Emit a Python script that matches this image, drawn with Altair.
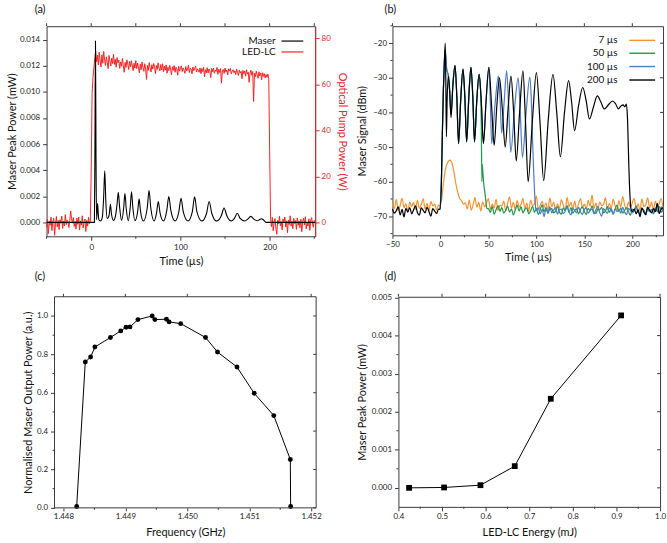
import altair as alt
import pandas as pd

FONT = "Lato"
RED = "#ff1f1f"
RED_AX = "#e8262b"
FRAME = "#3a3a3a"

# ---------------- panel (a): maser trace key points ----------------
maser_t = [-50, 3.6, 4.2, 4.8, 5.4, 6.0, 6.6, 7.2, 7.8, 8.6, 10.5, 12.5, 14.0, 15.2, 16.4,
           18.0, 20.2, 21.5, 22.8, 25.0, 27.5, 29.0, 30.4, 31.8, 34.0, 36.4, 37.8, 39.2,
           41.5, 43.8, 45.2, 46.6, 49.0, 52.2, 53.7, 55.2, 58.5, 62.8, 64.8, 66.8, 70.5,
           73.2, 75.2, 77.2, 81.0, 84.7, 87.0, 89.3, 94.0, 98.2, 100.7, 103.2, 108.5, 113.3,
           115.9, 118.5, 124.0, 129.3, 132.2, 135.1, 140.5, 145.8, 148.9, 152.0, 157.0,
           160.5, 163.7, 166.9, 172.0, 175.5, 178.9, 182.3, 186.0, 188.5, 190.7, 192.9,
           196.0, 251]
maser_p = [0, 0, 0.006, 0.0139, 0.005, 0.0002, 0.0008, 0.00145, 0.0008, 0.0002, 0.0001,
           0.0004, 0.0020, 0.00395, 0.0016, 0.0003, 0.0006, 0.00138, 0.0006, 0.00015,
           0.0006, 0.0014, 0.0023, 0.0012, 0.00015, 0.0011, 0.0022, 0.0011, 0.00012,
           0.0012, 0.00235, 0.0012, 0.00012, 0.0009, 0.0018, 0.0009, 0.0001, 0.0011,
           0.00243, 0.0011, 0.0001, 0.0007, 0.0016, 0.0007, 0.0001, 0.0009, 0.00197,
           0.0009, 0.0001, 0.0008, 0.00185, 0.0008, 0.0001, 0.0008, 0.00195, 0.0008,
           0.0001, 0.0007, 0.0016, 0.0007, 0.0001, 0.0005, 0.0011, 0.0005, 0.0001,
           0.0003, 0.0007, 0.0003, 0.0001, 0.00025, 0.00046, 0.00025, 0.00012, 0.0002,
           0.00028, 0.0002, 0.0, 0.0]

# LED-LC optical pump power (W), 1 us samples
led_pre = [-2.1, 1.4, -4.8, 0.6, -1.2, 2.3, -3.5, 0.2, 1.8, -5.6,
           -0.7, 2.6, -1.9, 0.9, -3.1, 1.2, -0.4, 2.8, -2.6, 0.5,
           -1.5, 3.4, -0.9, 1.1, 0.2, -2.2, 0.8, 5.0, 1.6, -0.3,
           2.1, -1.7, 0.4, -2.9, 1.9, -0.8, 2.4, -3.3, 0.7, -1.1,
           2.9, -2.4, 0.3, 1.5, -3.9, 0.9, -1.6, 2.2, -0.6, 0.4]          # t=-50..-1
led_rise = [22, 56, 63, 67, 71]                                             # t=0..4
led_s1 = [74.5, 69.8, 72.6, 68.4, 73.9, 70.2, 67.5, 72.8, 69.1, 74.2, 70.6]  # t=5..
led_s2 = [68.2, 71.9, 69.4, 66.8, 72.5, 70.1, 67.9, 71.3, 69.0, 73.0, 68.6, 70.8,
          67.4, 71.6, 69.3]                                                 # t=16..
led_s3 = [70.4, 66.9, 69.7, 67.8, 71.2, 68.1, 65.2, 69.5, 67.3, 70.6, 68.8, 66.4,
          69.9, 67.6, 70.2, 68.3, 65.9, 69.1, 67.0, 70.3]                   # t=31..
led_s4 = [66.8, 69.2, 67.1, 64.9, 68.7, 66.3, 69.6, 67.4, 65.6, 68.9, 66.7, 62.1,
          68.2, 66.0, 69.4, 67.2, 65.3, 68.5, 66.6, 69.0, 67.8, 64.6, 68.1, 66.4,
          69.3, 67.0, 65.8, 68.6, 66.2, 68.9]                               # t=51..
led_s5 = [65.4, 67.9, 66.1, 68.4, 64.8, 67.3, 65.9, 68.2, 66.5, 64.1, 67.6, 66.0,
          68.1, 65.2, 67.4, 66.3, 63.9, 67.8, 65.7, 66.9, 68.0, 65.5, 67.1, 66.2,
          64.7, 67.7, 65.8, 66.6, 68.3, 65.1, 67.0, 66.4, 64.5, 67.5, 65.9, 66.8,
          67.9, 65.3, 66.7, 66.0]                                           # t=81..
led_s6 = [65.2, 67.1, 64.6, 66.8, 65.5, 67.4, 63.2, 66.3, 65.0, 67.2, 64.9, 66.6,
          65.8, 62.9, 66.9, 65.4, 67.0, 64.8, 66.1, 65.6, 67.3, 64.3, 66.5, 65.1,
          66.8, 60.5, 65.9, 66.4, 64.7, 67.0, 65.3, 66.2, 64.0, 66.7, 65.7, 66.9,
          64.5, 65.8, 66.3, 65.0]                                           # t=121..
led_s7 = [65.9, 64.2, 66.5, 65.1, 63.8, 66.2, 64.9, 65.6, 62.4, 66.0, 64.6, 65.8,
          63.5, 66.3, 64.4, 65.2, 60.8, 64.9, 66.1, 63.9, 65.5, 52.5, 64.8, 63.3,
          65.7, 64.1, 62.6, 65.4, 63.7, 64.9, 61.9, 65.0, 63.4, 64.6, 62.8, 64.2,
          63.0, 64.4, 62.5]                                                 # t=161..199
led_fall = [31, 2]                                                          # t=200..201
led_post = [-1.8, 2.2, -3.6, 0.4, 1.7, -2.5, -5.1, 0.9, -0.6, 2.7, -1.4, 0.3,
            -3.2, 1.5, -0.2, 2.4, -2.0, 0.7, -4.4, 1.1, -0.9, 2.9, -1.6, 0.5,
            -2.7, 1.8, -0.5, 0.8, -3.0, 2.0, -1.2, 0.6, -2.3, 1.4, -4.0, 0.2,
            1.9, -1.0, 2.5, -2.8, 0.1, -1.5, 1.6, -3.4, 0.7, 2.1, -0.7, -2.1, 1.0]  # t=202..

# ---------------- panel (b): maser signal (dBm) ----------------
b_names = ["7 µs", "50 µs", "100 µs", "200 µs"]
b_colors = ["#f7922f", "#1d9a4a", "#4a7cc9", "#000000"]

orange_pre = [-66.2, -67.8, -65.1, -68.3, -66.9, -64.8, -67.5, -66.4, -68.6, -65.9,
              -67.2, -66.0, -68.1, -65.4, -67.7, -66.6, -64.9, -67.9, -66.3, -68.4,
              -65.7, -67.0, -66.5, -68.2, -66.8]                 # t=-50..-2 step 2
orange_hump = [(-0.5, -67), (1, -65.5), (2.5, -62), (4, -58.5), (6, -55.5), (8, -54.2),
               (10, -53.8), (12, -54.6), (14, -57), (16, -60.5), (18, -63), (20, -64.8),
               (22, -65.5), (24, -66.5)]
orange_post = [-66.1, -67.9, -65.3, -68.2, -66.7, -64.6, -67.4, -66.0, -68.5, -65.8,
               -67.3, -66.2, -64.9, -68.0, -66.5, -67.6, -65.1, -68.3, -66.8, -67.1,
               -65.6, -68.4, -66.3, -64.4, -67.7, -66.0, -68.1, -65.5, -67.4, -66.6,
               -64.8, -67.9, -66.2, -68.6, -65.3, -67.0, -66.4, -64.2, -68.0, -66.9,
               -65.7, -67.5, -66.1, -68.3, -64.7, -67.2, -65.9, -68.1, -66.4, -67.8,
               -65.2, -66.7, -68.4, -64.5, -67.3, -66.0, -67.9, -65.6, -68.2, -66.3,
               -64.9, -67.6, -66.5, -68.0, -65.4, -67.1, -63.9, -67.8, -66.2, -68.5,
               -65.8, -67.0, -66.6, -64.6, -68.1, -66.3, -67.7, -65.1, -66.9, -68.2,
               -65.5, -67.3, -64.3, -66.8, -68.0, -65.9, -67.5, -66.1, -64.8, -67.9,
               -66.4, -68.3, -65.0, -67.2, -66.7, -64.7, -67.6, -66.0, -68.1, -65.6,
               -67.4, -66.3, -64.9, -67.8]                       # t=26..232 step 2

shared_early = [(-0.5, -68), (1, -60), (2, -46), (3, -34), (4, -26), (5, -22), (6.5, -27.5),
                (8.3, -29.5), (9.6, -34), (11, -40.5), (13, -32), (15.2, -26.5), (17, -35),
                (18.9, -49), (21, -37), (23.5, -27.5), (25.5, -36), (27.3, -48.5), (29.5, -36),
                (31.8, -27), (33.8, -36), (35.5, -48.5), (37.8, -37), (40.3, -29)]
green_drop = [(41.5, -32), (42.6, -44), (43.2, -60), (43.6, -55), (44.4, -58), (45.5, -61.5),
              (46.5, -63.5), (47.5, -66), (48.5, -67.8)]
green_post = [-67.8, -68.9, -67.2, -69.4, -68.1, -66.9, -68.6, -67.5, -69.1, -68.3,
              -67.0, -68.8, -67.9, -69.6, -68.2, -66.8, -68.5, -67.3, -69.0, -68.0,
              -67.6, -69.3, -68.4, -67.1, -68.9, -67.7, -69.5, -68.1, -66.7, -68.7,
              -67.4, -69.2, -68.0, -67.8, -69.0, -68.5, -67.2, -68.8, -69.4, -67.6,
              -68.3, -66.9, -68.9, -67.5, -69.1, -68.2, -67.9, -69.3, -68.0, -67.3,
              -68.6, -69.5, -67.7, -68.4, -67.0, -68.8, -69.2, -67.9, -68.1, -67.4,
              -69.0, -68.5, -67.2, -68.9, -67.8, -69.4, -68.0, -66.8, -68.7, -67.6,
              -69.1, -68.3, -67.5, -68.6, -69.7, -67.9, -68.2, -67.0, -68.8, -69.2,
              -67.7, -68.4, -69.0, -67.3, -68.6, -68.1, -69.3, -67.8, -68.5, -67.1,
              -68.9, -68.0]                                      # t=50..232 step 2
blue_osc = [(42.6, -37), (44.8, -49), (47.5, -37), (50.5, -27), (52, -37), (53.4, -49),
            (56.8, -38), (60.4, -29.5), (62.1, -36), (63.8, -46), (66.4, -37), (69, -28),
            (71.1, -38), (73.3, -51.5), (77.2, -39), (81, -30), (83.2, -40), (85.5, -53),
            (89.3, -40), (93.2, -29.8), (94.8, -37), (96, -48), (97.3, -58), (98.5, -65),
            (99.5, -68)]
blue_post = [-68.4, -67.6, -69.3, -68.0, -70.1, -67.8, -68.9, -67.3, -69.0, -68.2,
             -67.5, -69.4, -68.1, -67.9, -69.2, -68.6, -67.2, -68.8, -69.6, -67.7,
             -68.3, -69.0, -67.4, -68.7, -69.5, -68.0, -67.6, -69.1, -68.4, -67.9,
             -69.3, -68.2, -67.1, -68.9, -70.0, -67.8, -68.5, -69.2, -67.6, -68.1,
             -69.4, -67.9, -68.6, -68.0, -69.1, -67.4, -68.8, -69.5, -67.7, -68.3,
             -69.0, -68.4, -67.5, -68.9, -69.3, -67.8, -68.2, -69.6, -67.9, -68.7,
             -68.0, -69.2, -67.6, -68.5, -69.0, -67.3, -68.8]     # t=100..232 step 2
black_pre = [-67.9, -69.1, -68.4, -67.3, -69.6, -68.0, -70.2, -67.7, -68.8, -67.5,
             -69.3, -68.1, -67.0, -68.9, -69.7, -67.6, -68.3, -69.0, -67.4, -68.6,
             -70.0, -67.8, -68.5, -69.2, -67.9]                  # t=-50..-2 step 2
black_osc = [(-0.5, -68), (1, -60), (2, -46), (3, -34), (4, -26), (5, -20), (5.6, -31),
             (6.2, -47), (7, -36), (8.3, -29.5), (9.5, -33), (11, -41.5), (13, -32),
             (15.2, -26.5), (17, -35), (18.9, -49), (21, -37), (23.5, -27.5), (25.5, -36),
             (27.3, -48.5), (29.5, -36), (31.8, -27), (33.8, -36), (35.5, -48.5),
             (37.8, -37), (40.3, -29), (42.6, -37), (44.8, -49), (47.5, -37), (50.5, -27),
             (53.3, -38), (56, -49.5), (58.8, -38), (61.5, -30), (64.5, -39), (67.5, -50),
             (70.5, -39), (73.5, -29.5), (76.3, -40), (79, -54), (82.5, -40), (86, -28),
             (88.7, -43), (91.4, -60), (95.7, -43), (100, -28.5), (103.8, -43),
             (107.6, -59.7), (112.4, -42), (117.3, -29), (121.2, -40), (125, -52.8),
             (129.3, -40), (133.6, -30.8), (136.7, -37), (139.8, -45.3), (144, -38),
             (148.3, -32.8), (151.8, -36.5), (155.3, -41.9), (159.4, -38.5), (163.5, -35.2),
             (167.2, -37), (170.8, -39), (175, -37.8), (179.4, -36.7), (182.5, -37.5),
             (185.5, -39), (188, -38.2), (190.3, -37.8), (192, -38.4), (193.8, -37.6),
             (195, -42), (196.3, -55), (197.5, -64), (198.7, -68)]
black_post = [-68.6, -67.9, -69.3, -68.1, -70.1, -67.6, -68.8, -69.5, -67.4, -68.2,
              -69.0, -67.8, -68.7, -66.3, -69.2, -68.0, -67.5]   # t=200..232 step 2

# ---------------- panel (c) ----------------
c_freq = [1.448214, 1.448353, 1.448439, 1.448508, 1.448759, 1.448925, 1.449011, 1.449075,
          1.449203, 1.449433, 1.449476, 1.449663, 1.449706, 1.449893, 1.450294, 1.450487,
          1.450802, 1.451080, 1.451396, 1.451663, 1.451668]
c_power = [0.007, 0.760, 0.786, 0.838, 0.888, 0.922, 0.941, 0.943, 0.981, 1.000, 0.981,
           0.983, 0.969, 0.960, 0.888, 0.812, 0.734, 0.597, 0.481, 0.252, 0.007]

# ---------------- panel (d) ----------------
d_energy = [0.4245, 0.5047, 0.5881, 0.6668, 0.7494, 0.9107]
d_peak = [0.0, 0.00001, 0.00007, 0.00057, 0.00234, 0.00453]

# ---------------- scale domains / tick positions ----------------
A_X = [-50, 251]
A_YL = [-0.00107, 0.01504]
A_YR = [-6, 85.2]
B_X = [-50, 232]
B_Y = [-75.5, -15.1]
C_X = [1.447856, 1.45208]
C_Y = [0, 1.1]
D_X = [0.4, 1.0]
D_Y = [-0.0005, 0.00502]

A_XT = [-50, 0, 50, 100, 150, 200, 250]
A_YLT = [0, 0.002, 0.004, 0.006, 0.008, 0.010, 0.012, 0.014]
B_XT = [-50, 0, 50, 100, 150, 200]
B_XM = [-25, 25, 75, 125, 175, 225]
B_YT = [-70, -60, -50, -40, -30, -20]
B_YM = [-75, -65, -55, -45, -35, -25, -15]
C_XT = [1.448, 1.449, 1.450, 1.451, 1.452]
C_XM = [1.4485, 1.4495, 1.4505, 1.4515]
C_YT = [0, 0.2, 0.4, 0.6, 0.8, 1.0]
C_YM = [0.1, 0.3, 0.5, 0.7, 0.9]
D_XT = [0.4, 0.5, 0.6, 0.7, 0.8, 0.9, 1.0]
D_XM = [0.45, 0.55, 0.65, 0.75, 0.85, 0.95]
D_YT = [0, 0.001, 0.002, 0.003, 0.004, 0.005]
D_YM = [0.0005, 0.0015, 0.0025, 0.0035, 0.0045]


def seg(start, step, vals):
    return [round(start + i * step, 4) for i in range(len(vals))]


def pts(pairs):
    return [p[0] for p in pairs], [p[1] for p in pairs]


# ---- build (a) tables
led_t = (seg(-50, 1, led_pre) + seg(0, 1, led_rise) + seg(5, 1, led_s1) + seg(16, 1, led_s2)
         + seg(31, 1, led_s3) + seg(51, 1, led_s4) + seg(81, 1, led_s5) + seg(121, 1, led_s6)
         + seg(161, 1, led_s7) + seg(200, 1, led_fall) + seg(202, 1, led_post))
led_w = (led_pre + led_rise + led_s1 + led_s2 + led_s3 + led_s4 + led_s5 + led_s6 + led_s7
         + led_fall + led_post)
a_led = pd.DataFrame({"t": led_t, "v": led_w})
a_maser = pd.DataFrame({"t": maser_t, "v": maser_p})

# ---- build (b) tables
ot, ov = pts(orange_hump)
st, sv = pts(shared_early)
gt, gv = pts(green_drop)
bt, bv = pts(blue_osc)
kt, kv = pts(black_osc)
b_tables = [
    pd.DataFrame({"t": seg(-50, 2, orange_pre) + ot + seg(26, 2, orange_post),
                  "v": orange_pre + ov + orange_post}),
    pd.DataFrame({"t": st + gt + seg(50, 2, green_post), "v": sv + gv + green_post}),
    pd.DataFrame({"t": st + bt + seg(100, 2, blue_post), "v": sv + bv + blue_post}),
    pd.DataFrame({"t": seg(-50, 2, black_pre) + kt + seg(200, 2, black_post),
                  "v": black_pre + kv + black_post}),
]

c_df = pd.DataFrame({"f": c_freq, "v": c_power})
d_df = pd.DataFrame({"e": d_energy, "p": d_peak})


def ptitle(txt, dx, offset):
    return alt.TitleParams(txt, anchor="start", frame="group", dx=dx, offset=offset,
                           fontSize=11, fontWeight="normal", font=FONT, color="#111")


def xticks(enc, field, values, y0, y1, color=FRAME):
    """Short tick rules at data positions along x (through the panel's own x encoding)."""
    df = pd.DataFrame({field: values})
    return alt.Chart(df).mark_rule(color=color, strokeWidth=1).encode(
        x=enc, y=alt.value(y0), y2=alt.value(y1))


def yticks(enc, field, values, x0, x1, color=FRAME):
    df = pd.DataFrame({field: values})
    return alt.Chart(df).mark_rule(color=color, strokeWidth=1).encode(
        y=enc, x=alt.value(x0), x2=alt.value(x1))


def legend_rows(labels, colors, ys, text_right, sym_x, sym_x2, width):
    out = []
    for lab, col, yy in zip(labels, colors, ys):
        one = pd.DataFrame({"lab": [lab]})
        out.append(alt.Chart(one).mark_text(align="right", baseline="middle", fontSize=10,
                                            font=FONT, color="#111")
                   .encode(text="lab:N", x=alt.value(text_right), y=alt.value(yy)))
        out.append(alt.Chart(one).mark_rule(color=col, strokeWidth=width)
                   .encode(x=alt.value(sym_x), x2=alt.value(sym_x2), y=alt.value(yy)))
    return out


def frame_line(x0, x1, y0, y1):
    return alt.Chart(pd.DataFrame({"k": [0]})).mark_rule(color=FRAME, strokeWidth=1).encode(
        x=alt.value(x0), x2=alt.value(x1), y=alt.value(y0), y2=alt.value(y1))


# ================= panel (a) =================
AW, AH = 271, 212
xa_sc = alt.Scale(domain=A_X, nice=False, zero=False)
xa = alt.X("t:Q", scale=xa_sc,
           axis=alt.Axis(orient="bottom", values=[0, 100, 200], title="Time (µs)", tickSize=4,
                         labelPadding=3, titlePadding=4))
red = alt.Chart(a_led).mark_line(strokeWidth=1, color=RED).encode(
    x=xa,
    y=alt.Y("v:Q", scale=alt.Scale(domain=A_YR, nice=False, zero=False),
            axis=alt.Axis(orient="right", values=[0, 20, 40, 60, 80], title="Optical Pump Power (W)",
                          tickSize=4, labelPadding=2, titlePadding=6, labelColor=RED_AX,
                          titleColor=RED_AX, tickColor=RED_AX, domain=True, domainColor=RED_AX)))
blk = alt.Chart(a_maser).mark_line(strokeWidth=1.1, interpolate="monotone", color="#000").encode(
    x=xa,
    y=alt.Y("v:Q", scale=alt.Scale(domain=A_YL, nice=False, zero=False),
            axis=alt.Axis(orient="left", values=A_YLT, format=".3f", title="Maser Peak Power (mW)",
                          tickSize=4, labelPadding=3, titlePadding=2)))
a_core = alt.layer(red, blk).resolve_scale(y="independent")
a_extra = [
    xticks(xa, "t", A_XT, -3, 0),
    xticks(xa, "t", [-50, 50, 150, 250], AH, AH + 2.5),
]
a_leg = legend_rows(["Maser", "LED-LC"], ["#000000", RED], [15, 26], 231, 237, 259, 1.2)
pa = alt.layer(a_core, *a_extra, *a_leg).properties(
    width=AW, height=AH, title=ptitle("(a)", -12, 8))

# ================= panel (b) =================
BW, BH = 273, 211
xb = alt.X("t:Q", scale=alt.Scale(domain=B_X, nice=False, zero=False),
           axis=alt.Axis(orient="bottom", values=B_XT, title="Time ( µs)",
                         tickSize=3, labelPadding=2, titlePadding=3))
yb = alt.Y("v:Q", scale=alt.Scale(domain=B_Y, nice=False, zero=False),
           axis=alt.Axis(orient="left", values=B_YT,
                         title="Maser Signal (dBm)", tickSize=4, labelPadding=2, titlePadding=5))
b_layers = [alt.Chart(tbl).mark_line(strokeWidth=1.2, interpolate="monotone", color=colr)
            .encode(x=xb, y=yb) for tbl, colr in zip(b_tables, b_colors)]
b_extra = [
    xticks(xb, "t", B_XT, -3, 0),
    xticks(xb, "t", B_XM, BH, BH + 2),
    yticks(yb, "v", B_YM, -2, 0),
    yticks(yb, "v", B_YT, BW - 3, BW),
]
b_leg = legend_rows(b_names, b_colors, [14.3, 27.3, 40.7, 54.3], 227, 239, 265, 1.4)
pb = alt.layer(*b_layers, *b_extra, *b_leg).properties(
    width=BW, height=BH, title=ptitle("(b)", -8, 8))

# ================= panel (c) =================
# plot area drawn from x=8 to CW (the x range starts 8 px in, frame drawn by rules)
CW, CH, COFF = 272, 213, 8
xc = alt.X("f:Q", scale=alt.Scale(domain=C_X, nice=False, zero=False, range=[COFF, CW]),
           axis=alt.Axis(orient="bottom", values=C_XT, format=".3f",
                         title="Frequency (GHz)", tickSize=3, labelPadding=2, titlePadding=6))
yc = alt.Y("v:Q", scale=alt.Scale(domain=C_Y, nice=False, zero=False),
           axis=alt.Axis(orient="left", values=C_YT, format=".1f", offset=-COFF,
                         title="Normalised Maser Output Power (a.u.)", tickSize=4, labelPadding=3,
                         titlePadding=3))
c_line = alt.Chart(c_df).mark_line(color="#000", strokeWidth=1).encode(x=xc, y=yc)
c_pts = alt.Chart(c_df).mark_point(filled=True, color="#000", size=24, opacity=1).encode(x=xc, y=yc)
spacer = alt.Chart(pd.DataFrame({"k": [0]})).mark_rule(opacity=0).encode(
    x=alt.value(-44), x2=alt.value(0), y=alt.value(100))
c_extra = [
    frame_line(COFF, COFF, 0, CH), frame_line(CW, CW, 0, CH),
    frame_line(COFF, CW, 0, 0), frame_line(COFF, CW, CH, CH),
    xticks(xc, "f", C_XT, -3, 0),
    xticks(xc, "f", C_XM, CH, CH + 2),
    yticks(yc, "v", C_YM, COFF - 2, COFF),
    yticks(yc, "v", C_YT, CW - 3, CW),
]
pc = alt.layer(c_line, c_pts, spacer, *c_extra).properties(
    width=CW, height=CH, title=ptitle("(c)", -12, 11), view=alt.ViewBackground(stroke=None))

# ================= panel (d) =================
DW, DH = 264, 212
xd = alt.X("e:Q", scale=alt.Scale(domain=D_X, nice=False, zero=False),
           axis=alt.Axis(orient="bottom", values=D_XT, format=".1f",
                         title="LED-LC Energy (mJ)", tickSize=4, labelPadding=2, titlePadding=6))
yd = alt.Y("p:Q", scale=alt.Scale(domain=D_Y, nice=False, zero=False),
           axis=alt.Axis(orient="left", values=D_YT, format=".3f",
                         title="Maser Peak Power (mW)", tickSize=4, labelPadding=3, titlePadding=4))
d_line = alt.Chart(d_df).mark_line(color="#000", strokeWidth=1).encode(x=xd, y=yd)
d_pts = alt.Chart(d_df).mark_square(color="#000", size=34, opacity=1).encode(x=xd, y=yd)
d_extra = [
    xticks(xd, "e", D_XT, -3, 0),
    xticks(xd, "e", D_XM, DH, DH + 2),
    yticks(yd, "p", D_YM, -2, 0),
    yticks(yd, "p", D_YT, DW - 3, DW),
]
pd_ = alt.layer(d_line, d_pts, *d_extra).properties(
    width=DW, height=DH, title=ptitle("(d)", -14, 11))

row1 = alt.hconcat(pa, pb, spacing=8)
row2 = alt.hconcat(pc, pd_, spacing=34)
chart = alt.vconcat(row1, row2, spacing=4).properties(
    padding={"left": 3, "top": 1, "right": 0, "bottom": 0}
).configure(font=FONT).configure_axis(
    labelFontSize=8, titleFontSize=11, titleFontWeight="normal", grid=False, domain=False,
    tickColor=FRAME, labelColor="#222", titleColor="#111", labelFlush=False, labelFont=FONT,
    titleFont=FONT
).configure_view(stroke=FRAME, strokeWidth=1)

chart.save("out.html", embed_options={"renderer": "svg", "actions": False})
